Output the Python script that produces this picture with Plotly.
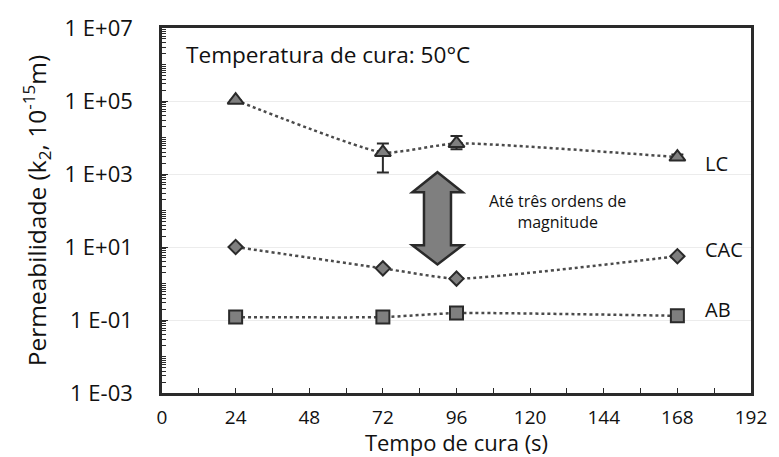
import numpy as np
import plotly.graph_objects as go

tempo = [24, 72, 96, 168]
lc = [1.05e5, 3.9e3, 6.9e3, 2.9e3]
lc_plus = [0, 3000, 4100, 500]
lc_minus = [0, 2800, 2100, 400]
cac = [10, 2.6, 1.36, 5.6]
ab = [0.12, 0.12, 0.155, 0.13]

series_names = ["LC", "CAC", "AB"]
label_vals = [1.9e3, 8.8, 0.19]
y_tickvals = [1e-3, 1e-1, 1e1, 1e3, 1e5, 1e7]
y_ticktext = ["1 E-03", "1 E-01", "1 E+01", "1 E+03", "1 E+05", "1 E+07"]
x_tickvals = [0, 24, 48, 72, 96, 120, 144, 168, 192]

FONT = "Open Sans"
LINE_COL = "#4a4a4a"
FILL = "#7f7f7f"
EDGE = "#2a2a2a"

fig = go.Figure()

def add_series(y, symbol, size, name, err=None):
    tr = go.Scatter(
        x=tempo, y=y, mode="lines+markers", name=name,
        line=dict(color=LINE_COL, width=2.5, dash="dot", shape="spline", smoothing=0.5),
        marker=dict(symbol=symbol, size=size, color=FILL, line=dict(color=EDGE, width=2)),
        showlegend=False,
    )
    if err is not None:
        tr.error_y = dict(type="data", symmetric=False, array=err[0], arrayminus=err[1],
                          color=EDGE, thickness=2, width=6)
    fig.add_trace(tr)

add_series(lc, "triangle-up", 14, "LC", (lc_plus, lc_minus))
add_series(cac, "diamond", 11, "CAC")
add_series(ab, "square", 13, "AB")

minor_vals = [m * 10.0 ** e for e in range(-3, 7) for m in range(1, 10)]

for name, yy in zip(series_names, label_vals):
    fig.add_annotation(x=176.5, y=np.log10(yy), text=name, showarrow=False,
                       xanchor="left", yanchor="middle",
                       font=dict(family=FONT, size=20, color="#111"))

fig.add_annotation(x=0.037, y=0.928, xref="paper", yref="paper",
                   text="Temperatura de cura: 50°C", showarrow=False,
                   xanchor="left", yanchor="middle",
                   font=dict(family=FONT, size=22.6, color="#111"))
fig.add_annotation(x=129, y=1.97, text="Até três ordens de<br>magnitude",
                   showarrow=False, xanchor="center", yanchor="middle",
                   font=dict(family=FONT, size=16, color="#111"))

# double arrow
cx = 89.8
hw, sw = 8.2, 4.4
yt, yh1, yh2, yb = 10**3.05, 10**2.5, 10**1.05, 10**0.52
path = (f"M {cx},{yt} L {cx+hw},{yh1} L {cx+sw},{yh1} L {cx+sw},{yh2} L {cx+hw},{yh2} "
        f"L {cx},{yb} L {cx-hw},{yh2} L {cx-sw},{yh2} L {cx-sw},{yh1} L {cx-hw},{yh1} Z")
fig.add_shape(type="path", path=path, xref="x", yref="y",
              fillcolor=FILL, line=dict(color=EDGE, width=2.5))

fig.update_layout(
    width=779, height=457,
    margin=dict(l=162, r=16, t=22, b=63),
    paper_bgcolor="white", plot_bgcolor="white",
    font=dict(family=FONT, color="#111"),
    xaxis=dict(range=[0, 192], tickvals=x_tickvals, ticks="inside", ticklen=5,
               tickcolor=EDGE, showline=True, linecolor=EDGE, linewidth=2.5, mirror=True,
               showgrid=False, zeroline=False, ticklabeloverflow="allow",
               ticklabelstandoff=5,
               minor=dict(ticks="inside", dtick=12, ticklen=5, tickcolor=EDGE),
               tickfont=dict(family=FONT, size=19, color="#111"),
               title=dict(text="Tempo de cura (s)", font=dict(family=FONT, size=22, color="#111"),
                          standoff=0)),
    yaxis=dict(type="log", range=[-3, 7], tickvals=y_tickvals, ticktext=y_ticktext,
               ticks="inside", ticklen=6, tickcolor=EDGE,
               minor=dict(tickmode="array", tickvals=minor_vals, ticks="inside",
                          ticklen=4, tickcolor=EDGE, showgrid=False),
               showline=True, linecolor=EDGE, linewidth=2.5, mirror=True,
               showgrid=True, gridcolor="#ececec", gridwidth=1, zeroline=False,
               tickfont=dict(family=FONT, size=22, color="#111"), ticklabelstandoff=22,
               title=dict(text="Permeabilidade (k<sub>2</sub>, 10<sup>-15</sup>m)",
                          font=dict(family=FONT, size=24.5, color="#111"), standoff=12)),
)

fig.write_html("out.html")
